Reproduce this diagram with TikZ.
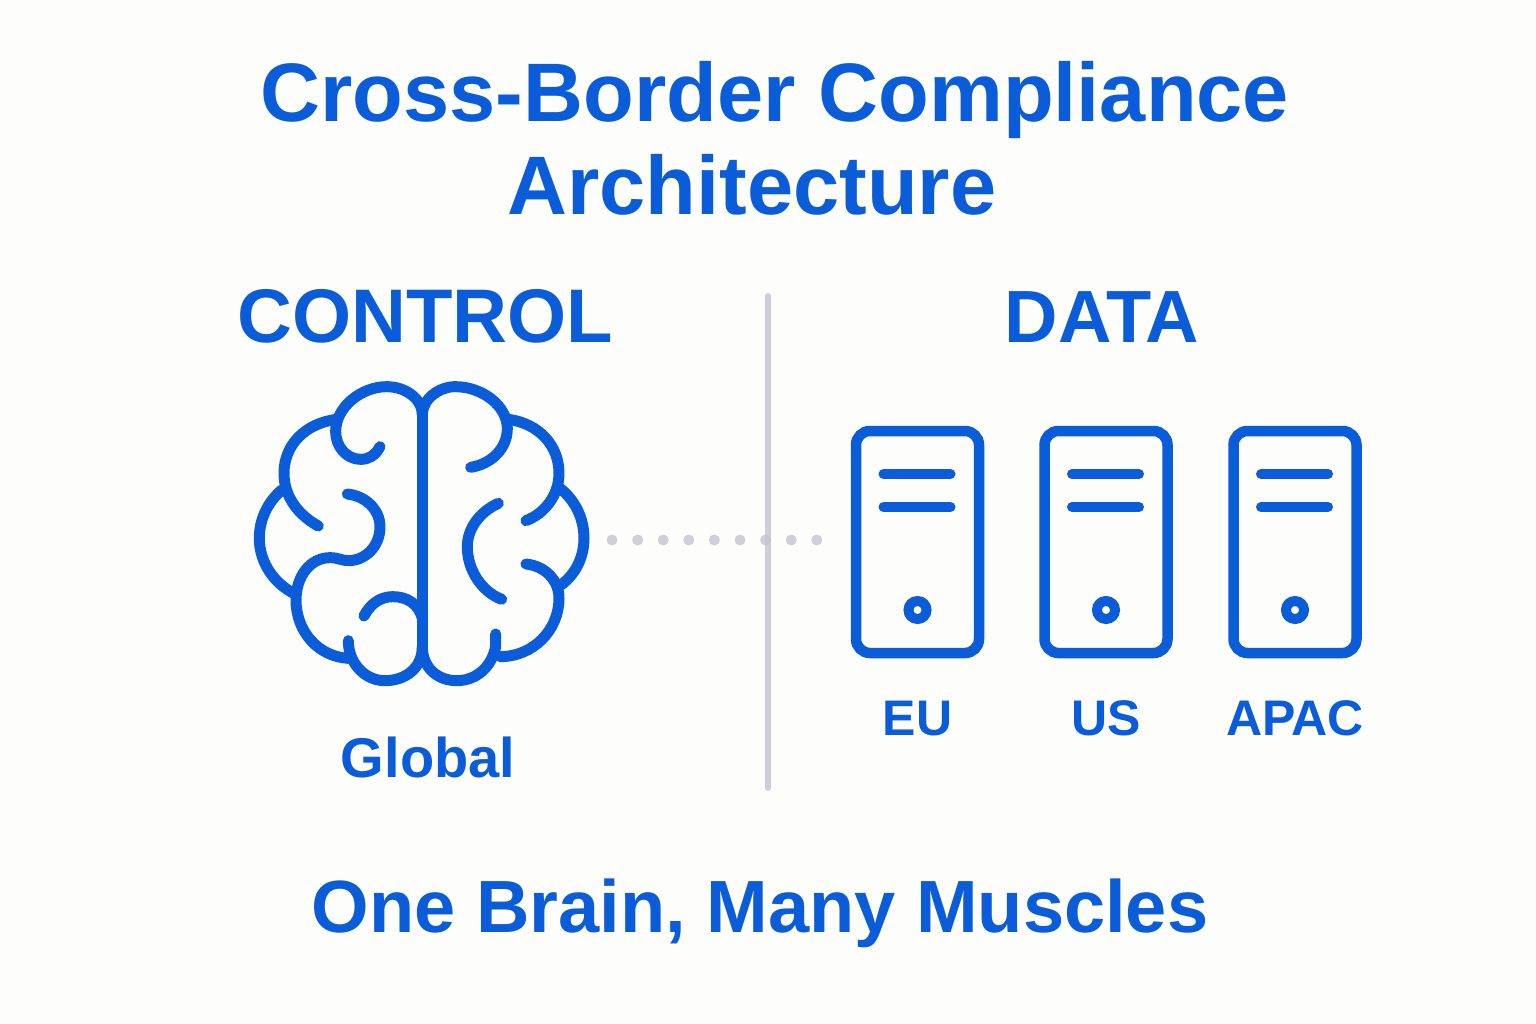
\documentclass[tikz,border=0pt]{standalone}
\usepackage{fontspec}
\setmainfont{Liberation Sans}[BoldFont={Liberation Sans Bold}]
\definecolor{bluec}{HTML}{0B5CD8}
\definecolor{bgc}{HTML}{FDFDFB}
\definecolor{greyc}{HTML}{CFCFDA}
\definecolor{dotc}{HTML}{C4C4D2}
\tikzset{
  label text/.style={text=bluec,inner sep=0pt,anchor=base,font=\bfseries},
  brainline/.style={draw=bluec,line width=11pt,line cap=round,line join=round},
  serverbox/.style={draw=bluec,line width=10.5pt,rounded corners=14pt},
  serverbar/.style={draw=bluec,line width=10pt,line cap=round},
  serverled/.style={draw=bluec,line width=10pt},
}
\newcommand{\fs}[1]{\fontsize{#1}{#1}\selectfont}
\newcommand{\serverunit}[2]{%
  \draw[serverbox] (#2-61.5,431) rectangle (#2+61.5,653);
  \draw[serverbar] (#2-34,474) -- (#2+33,474);
  \draw[serverbar] (#2-34,507) -- (#2+33,507);
  \draw[serverled] (#2,610) circle (9pt);
  \node[label text,font=\bfseries\fs{50}] (#1) at (#2,735) {#1};
}
\begin{document}
\begin{tikzpicture}[x=1pt,y=-1pt]
\fill[bgc] (0,0) rectangle (1536,1024);
\useasboundingbox (0,0) rectangle (1536,1024);
\node[label text,font=\bfseries\fs{83}] (title1) at (775,122) {Cross-Border Compliance};
\node[label text,font=\bfseries\fs{83}] (title2) at (752,215) {Architecture};
\node[label text,font=\bfseries\fs{76}] (control) at (425,342) {CONTROL};
\node[label text,font=\bfseries\fs{74}] (data) at (1102,342) {DATA};
\node[label text,font=\bfseries\fs{56}] (global) at (428,777) {Global};
\node[label text,font=\bfseries\fs{74}] (motto) at (760,932) {One Brain, Many Muscles};
% divider
\draw[greyc,line width=6pt,line cap=round] (768,296) -- (768,788);
% brain
\begin{scope}[shift={(240,370)},x=0.33333pt,y=-0.33333pt]
\draw[brainline] (547,135) -- (547,830);
\draw[brainline] (420,230) .. controls (405,258) and (385,268) .. (362,268)
  .. controls (320,268) and (287,230) .. (287,185)
  .. controls (287,110) and (365,50) .. (440,50)
  .. controls (495,50) and (547,85) .. (547,135);
\draw[brainline] (290,148) .. controls (195,160) and (132,225) .. (132,310)
  .. controls (132,380) and (175,435) .. (235,468);
\draw[brainline] (125,360) .. controls (85,395) and (58,445) .. (58,505)
  .. controls (58,575) and (100,640) .. (165,672);
\draw[brainline] (322,372) .. controls (378,378) and (420,420) .. (420,470)
  .. controls (420,530) and (375,572) .. (325,572)
  .. controls (305,572) and (295,563) .. (270,563)
  .. controls (210,563) and (168,620) .. (168,690)
  .. controls (168,785) and (235,860) .. (325,865);
\draw[brainline] (325,812) .. controls (325,880) and (375,932) .. (435,932)
  .. controls (495,932) and (547,895) .. (547,830);
\draw[brainline] (372,738) .. controls (390,703) and (420,680) .. (458,680)
  .. controls (500,680) and (535,700) .. (547,745);
\draw[brainline] (547,135) .. controls (547,85) and (600,50) .. (645,50)
  .. controls (730,50) and (802,110) .. (802,175)
  .. controls (802,235) and (755,282) .. (692,292);
\draw[brainline] (805,148) .. controls (895,160) and (957,225) .. (957,310)
  .. controls (957,375) and (915,430) .. (858,452);
\draw[brainline] (960,355) .. controls (1005,390) and (1032,445) .. (1032,505)
  .. controls (1032,565) and (1003,620) .. (955,650);
\draw[brainline] (858,582) .. controls (915,588) and (957,630) .. (957,685)
  .. controls (957,780) and (880,860) .. (780,860);
\draw[brainline] (767,792) -- (767,830)
  .. controls (755,890) and (710,932) .. (650,932)
  .. controls (595,932) and (547,895) .. (547,830);
\draw[brainline] (775,400) .. controls (720,425) and (682,475) .. (682,530)
  .. controls (682,600) and (725,665) .. (785,688);
\end{scope}
% servers
\serverunit{EU}{917.5}
\serverunit{US}{1106}
\serverunit{APAC}{1295}
% dotted link
\coordinate (linkstart) at (612,540);
\coordinate (linkend) at (820,540);
\draw[dotc,opacity=.8,line width=11pt,line cap=round,dash pattern=on 0pt off 25.6pt] (linkstart) -- (linkend);
\end{tikzpicture}
\end{document}
